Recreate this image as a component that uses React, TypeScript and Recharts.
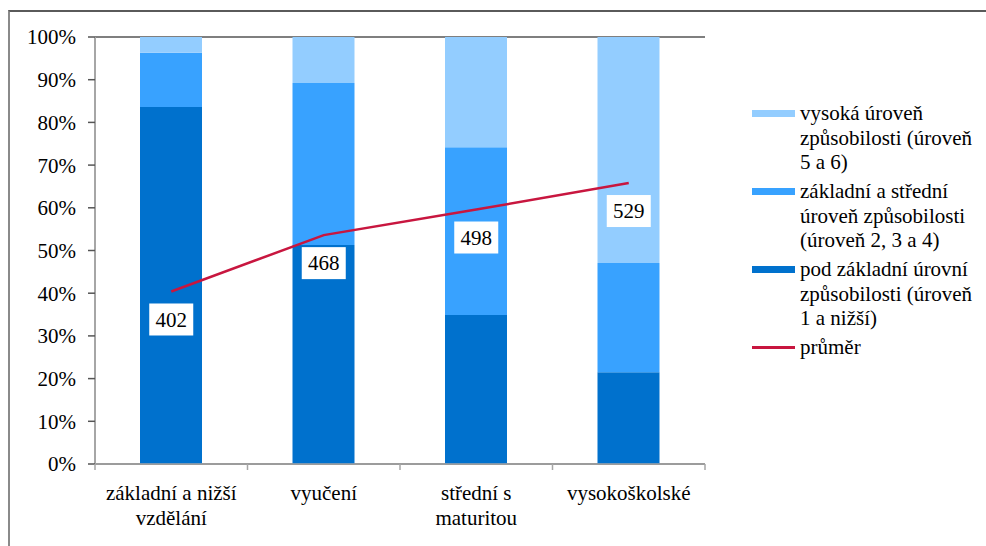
import { ComposedChart, Bar, Line, XAxis, YAxis, CartesianGrid, LabelList } from 'recharts';

const categories = ['základní a nižší vzdělání', 'vyučení', 'střední s maturitou', 'vysokoškolské'];
const belowBasic = [83.6, 51.3, 34.9, 21.5];
const basicMiddle = [12.7, 37.9, 39.3, 25.6];
const highLevel = [3.7, 10.8, 25.8, 52.9];
const meanScore = [402, 468, 498, 529];
const percentTicks = [0, 10, 20, 30, 40, 50, 60, 70, 80, 90, 100];

const legendItems = [
    { label: ['vysoká úroveň', 'způsobilosti (úroveň', '5 a 6)'], color: '#93cdff', kind: 'box' },
    { label: ['základní a střední', 'úroveň způsobilosti', '(úroveň 2, 3 a 4)'], color: '#38a2ff', kind: 'box' },
    { label: ['pod základní úrovní', 'způsobilosti (úroveň', '1 a nižší)'], color: '#0071cd', kind: 'box' },
    { label: ['průměr'], color: '#c8163f', kind: 'line' },
];

const data = categories.map((name, i) => ({
    name,
    low: belowBasic[i],
    mid: basicMiddle[i],
    high: highLevel[i],
    mean: meanScore[i],
}));

const FONT = "'Liberation Serif', 'DejaVu Serif', serif";
const W = 986;
const H = 546;
const M = { top: 37, right: 281, bottom: 22, left: 0 };
const PLOT_BOTTOM = H - 82;
const BAND = (W - 95 - M.right) / categories.length;

const wrap = (s: string, max = 16) => {
    const out: string[] = [];
    let cur = '';
    s.split(' ').forEach((w) => {
        const next = cur ? cur + ' ' + w : w;
        if (next.length > max && cur) {
            out.push(cur);
            cur = w;
        } else cur = next;
    });
    if (cur) out.push(cur);
    return out;
};

const CategoryTick = ({ x, payload, index }: any) => {
    const lines = wrap(payload.value);
    return (
        <g>
            <line x1={x - BAND / 2} x2={x - BAND / 2} y1={PLOT_BOTTOM} y2={PLOT_BOTTOM + 6} stroke="#a6a6a6" strokeWidth={1.5} />
            {index === categories.length - 1 && (
                <line x1={x + BAND / 2} x2={x + BAND / 2} y1={PLOT_BOTTOM} y2={PLOT_BOTTOM + 6} stroke="#a6a6a6" strokeWidth={1.5} />
            )}
            <text x={x} y={PLOT_BOTTOM + 36} textAnchor="middle" style={{ fontFamily: FONT }} fontSize={21} fill="#000">
                {lines.map((l, i) => (
                    <tspan key={i} x={x} dy={i === 0 ? 0 : 25}>{l}</tspan>
                ))}
            </text>
        </g>
    );
};

const MeanLabel = ({ x, y, value }: any) => {
    const cy = y + 28;
    return (
        <g>
            <rect x={x - 22} y={cy - 16} width={44} height={32} fill="#fff" />
            <text x={x} y={cy} dy="0.35em" textAnchor="middle" style={{ fontFamily: FONT }} fontSize={21} fill="#000">{value}</text>
        </g>
    );
};

export default function App() {
    return (
        <div style={{ position: 'absolute', left: 0, top: 0, width: W, height: H, background: '#fff', fontFamily: FONT }}>
            <div style={{ position: 'absolute', left: 8, top: 10, right: -4, bottom: -4, borderTop: '2px solid #5a5a5a', borderLeft: '2px solid #8a8a8a' }} />
            <ComposedChart width={W} height={H} data={data} margin={M} barCategoryGap={0} style={{ fontFamily: FONT }}>
                <CartesianGrid vertical={false} stroke="#555" strokeWidth={1.5} />
                <XAxis
                    dataKey="name"
                    tick={<CategoryTick />}
                    tickLine={false}
                    axisLine={{ stroke: '#a6a6a6', strokeWidth: 1.5 }}
                    interval={0}
                    height={60}
                />
                <YAxis
                    yAxisId="pct"
                    width={95}
                    domain={[0, 100]}
                    ticks={percentTicks}
                    tickFormatter={(v: number) => v + '%'}
                    tick={{ fontSize: 21, fill: '#000', style: { fontFamily: FONT } }}
                    tickSize={7}
                    tickMargin={12}
                    tickLine={{ stroke: '#555', strokeWidth: 1.5 }}
                    axisLine={{ stroke: '#a6a6a6', strokeWidth: 2 }}
                    interval={0}
                />
                <YAxis yAxisId="score" orientation="right" domain={[200, 700]} hide />
                <Bar yAxisId="pct" dataKey="low" stackId="s" fill="#0071cd" barSize={62} isAnimationActive={false} />
                <Bar yAxisId="pct" dataKey="mid" stackId="s" fill="#38a2ff" barSize={62} isAnimationActive={false} />
                <Bar yAxisId="pct" dataKey="high" stackId="s" fill="#93cdff" barSize={62} isAnimationActive={false} />
                <Line yAxisId="score" type="linear" dataKey="mean" stroke="#c8163f" strokeWidth={2.5} dot={false} isAnimationActive={false}>
                    <LabelList dataKey="mean" content={<MeanLabel />} />
                </Line>
            </ComposedChart>
            <div style={{ position: 'absolute', left: 752, top: 101, width: 234, fontSize: 21, lineHeight: '24.5px', color: '#000' }}>
                {legendItems.map((it) => (
                    <div key={it.label[0]} style={{ position: 'relative', paddingLeft: 48, marginBottom: 4.5 }}>
                        <div
                            style={{
                                position: 'absolute',
                                left: 0,
                                top: it.kind === 'box' ? 9 : 11,
                                width: 43,
                                height: it.kind === 'box' ? 7 : 2.5,
                                background: it.color,
                            }}
                        />
                        {it.label.map((l) => (
                            <div key={l} style={{ whiteSpace: 'nowrap' }}>{l}</div>
                        ))}
                    </div>
                ))}
            </div>
        </div>
    );
}
